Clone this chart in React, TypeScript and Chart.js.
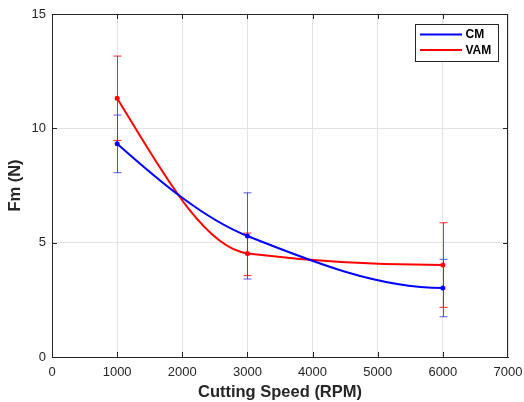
import { useEffect, useRef } from "react";
import { Chart, registerables } from "chart.js";

Chart.register(...registerables);

const speeds = [1000, 3000, 6000];
const cmMean = [9.33, 5.29, 3.02];
const cmLow = [8.06, 3.41, 1.76];
const cmHigh = [10.58, 7.18, 4.27];
const vamMean = [11.32, 4.53, 4.02];
const vamLow = [9.47, 3.56, 2.17];
const vamHigh = [13.16, 5.42, 5.87];
const seriesNames = ["CM", "VAM"];
const xTitle = "Cutting Speed (RPM)";
const yTitle = "Fm (N)";

const FONT = '"Liberation Sans", Arial, Helvetica, sans-serif';
const AXIS = "#262626";
const BLUE = "#0000ff";
const RED = "#ff0000";

const lows = [cmLow, vamLow];
const highs = [cmHigh, vamHigh];
const errColors = ["rgba(0,0,255,0.65)", "rgba(255,0,0,0.85)"];
const lineColors = [BLUE, RED];

// PCHIP-style control points computed in pixel space from the library's own points
function applyPchip(chart: any) {
  chart.data.datasets.forEach((_: any, di: number) => {
    const meta = chart.getDatasetMeta(di);
    const line = meta.dataset;
    if (!line) return;
    line.updateControlPoints(chart.chartArea, "x");
    const pts = meta.data;
    const n = pts.length;
    if (n < 2) return;
    const h: number[] = [];
    const d: number[] = [];
    for (let i = 0; i < n - 1; i++) {
      h.push(pts[i + 1].x - pts[i].x);
      d.push((pts[i + 1].y - pts[i].y) / h[i]);
    }
    const m: number[] = new Array(n).fill(0);
    for (let i = 1; i < n - 1; i++) {
      if (d[i - 1] * d[i] <= 0) m[i] = 0;
      else {
        const w1 = 2 * h[i] + h[i - 1];
        const w2 = h[i] + 2 * h[i - 1];
        m[i] = (w1 + w2) / (w1 / d[i - 1] + w2 / d[i]);
      }
    }
    const endSlope = (h0: number, h1: number, d0: number, d1: number) => {
      let s = ((2 * h0 + h1) * d0 - h0 * d1) / (h0 + h1);
      if (Math.sign(s) !== Math.sign(d0)) s = 0;
      else if (Math.sign(d0) !== Math.sign(d1) && Math.abs(s) > Math.abs(3 * d0)) s = 3 * d0;
      return s;
    };
    if (n > 2) {
      m[0] = endSlope(h[0], h[1], d[0], d[1]);
      m[n - 1] = endSlope(h[n - 2], h[n - 3], d[n - 2], d[n - 3]);
    } else {
      m[0] = d[0];
      m[1] = d[0];
    }
    for (let i = 0; i < n; i++) {
      const p = pts[i];
      const hb = i > 0 ? h[i - 1] : 0;
      const ha = i < n - 1 ? h[i] : 0;
      p.cp1x = p.x - hb / 3;
      p.cp1y = p.y - (m[i] * hb) / 3;
      p.cp2x = p.x + ha / 3;
      p.cp2y = p.y + (m[i] * ha) / 3;
    }
    line._path = undefined;
  });
}

const matlabPlugin = {
  id: "matlabStyle",
  beforeDatasetsDraw(chart: any) {
    applyPchip(chart);
    const ctx = chart.ctx;
    const xs = chart.scales.x;
    const ys = chart.scales.y;
    ctx.save();
    ctx.lineWidth = 1;
    for (let s = 0; s < 2; s++) {
      ctx.strokeStyle = errColors[s];
      for (let i = 0; i < speeds.length; i++) {
        const x = Math.round(xs.getPixelForValue(speeds[i])) + 0.5;
        const y1 = ys.getPixelForValue(lows[s][i]);
        const y2 = ys.getPixelForValue(highs[s][i]);
        ctx.beginPath();
        ctx.moveTo(x, y1);
        ctx.lineTo(x, y2);
        ctx.moveTo(x - 4, y1);
        ctx.lineTo(x + 4, y1);
        ctx.moveTo(x - 4, y2);
        ctx.lineTo(x + 4, y2);
        ctx.stroke();
      }
    }
    ctx.restore();
  },
  afterDraw(chart: any) {
    const ctx = chart.ctx;
    const { left, right, top, bottom } = chart.chartArea;
    const xs = chart.scales.x;
    const ys = chart.scales.y;
    ctx.save();
    ctx.strokeStyle = AXIS;
    ctx.lineWidth = 1;
    ctx.beginPath();
    ctx.moveTo(left, Math.round(top) + 0.5);
    ctx.lineTo(right, Math.round(top) + 0.5);
    ctx.moveTo(Math.round(right) - 0.5, top);
    ctx.lineTo(Math.round(right) - 0.5, bottom);
    // inward ticks
    xs.ticks.forEach((t: any) => {
      const x = Math.round(xs.getPixelForValue(t.value)) + 0.5;
      if (x <= left + 1 || x >= right - 1) return;
      ctx.moveTo(x, bottom);
      ctx.lineTo(x, bottom - 5);
      ctx.moveTo(x, top);
      ctx.lineTo(x, top + 5);
    });
    ys.ticks.forEach((t: any) => {
      const y = Math.round(ys.getPixelForValue(t.value)) + 0.5;
      if (y <= top + 1 || y >= bottom - 1) return;
      ctx.moveTo(left, y);
      ctx.lineTo(left + 5, y);
      ctx.moveTo(right, y);
      ctx.lineTo(right - 5, y);
    });
    ctx.stroke();

    // legend
    const w = 83;
    const h = 37;
    const lx = Math.round(right - 93) + 0.5;
    const ly = Math.round(top + 10) + 0.5;
    ctx.fillStyle = "#ffffff";
    ctx.fillRect(lx, ly, w, h);
    ctx.strokeStyle = AXIS;
    ctx.strokeRect(lx, ly, w, h);
    ctx.font = `bold 12px ${FONT}`;
    ctx.textBaseline = "middle";
    ctx.textAlign = "left";
    for (let s = 0; s < 2; s++) {
      const yy = ly + 10 + s * 15.5;
      ctx.strokeStyle = lineColors[s];
      ctx.lineWidth = 2;
      ctx.beginPath();
      ctx.moveTo(lx + 4.5, yy);
      ctx.lineTo(lx + 46.5, yy);
      ctx.stroke();
      ctx.fillStyle = "#000000";
      ctx.fillText(seriesNames[s], lx + 50, yy + 0.5);
    }
    ctx.restore();
  },
};

export default function App() {
  const ref = useRef<HTMLCanvasElement | null>(null);
  useEffect(() => {
    if (!ref.current) return;
    const mk = (ys: number[], color: string, label: string) => ({
      label,
      data: speeds.map((x, i) => ({ x, y: ys[i] })),
      borderColor: color,
      backgroundColor: color,
      borderWidth: 2,
      pointRadius: 2.5,
      pointBorderWidth: 0,
      pointBackgroundColor: color,
      tension: 0.4,
      fill: false,
    });
    const chart = new Chart(ref.current, {
      type: "line",
      data: {
        datasets: [mk(cmMean, BLUE, seriesNames[0]), mk(vamMean, RED, seriesNames[1])],
      },
      options: {
        responsive: false,
        animation: false,
        devicePixelRatio: 1,
        layout: { padding: { top: 14, right: 16, left: 0, bottom: 0 } },
        plugins: { legend: { display: false }, tooltip: { enabled: false } },
        scales: {
          x: {
            type: "linear",
            min: 0,
            max: 7000,
            ticks: {
              stepSize: 1000,
              color: AXIS,
              padding: 8,
              font: { family: FONT, size: 13 },
              callback: (v: any) => String(v),
            },
            grid: { color: "#e3e3e3", drawTicks: false },
            border: { color: AXIS, width: 1 },
            title: {
              display: true,
              text: xTitle,
              color: AXIS,
              font: { family: FONT, size: 16.5, weight: "bold" },
              padding: { top: 0, bottom: 0 },
            },
            afterFit: (s: any) => {
              s.height = 45;
              s.paddingRight = 0;
              s.paddingLeft = 0;
            },
          },
          y: {
            min: 0,
            max: 15,
            ticks: {
              stepSize: 5,
              color: AXIS,
              padding: 6,
              font: { family: FONT, size: 13 },
              callback: (v: any) => String(v),
            },
            grid: { color: "#e3e3e3", drawTicks: false },
            border: { color: AXIS, width: 1 },
            title: {
              display: true,
              text: yTitle,
              color: AXIS,
              font: { family: FONT, size: 16.5, weight: "bold" },
              padding: { top: 6, bottom: 0 },
            },
            afterFit: (s: any) => {
              s.width = 52;
              s.paddingTop = 0;
              s.paddingBottom = 0;
            },
          },
        },
      },
      plugins: [matlabPlugin],
    } as any);
    return () => chart.destroy();
  }, []);
  return (
    <div style={{ position: "absolute", left: 0, top: 0, width: 524, height: 402, background: "#fff" }}>
      <canvas ref={ref} width={524} height={402} style={{ width: 524, height: 402 }} />
    </div>
  );
}
